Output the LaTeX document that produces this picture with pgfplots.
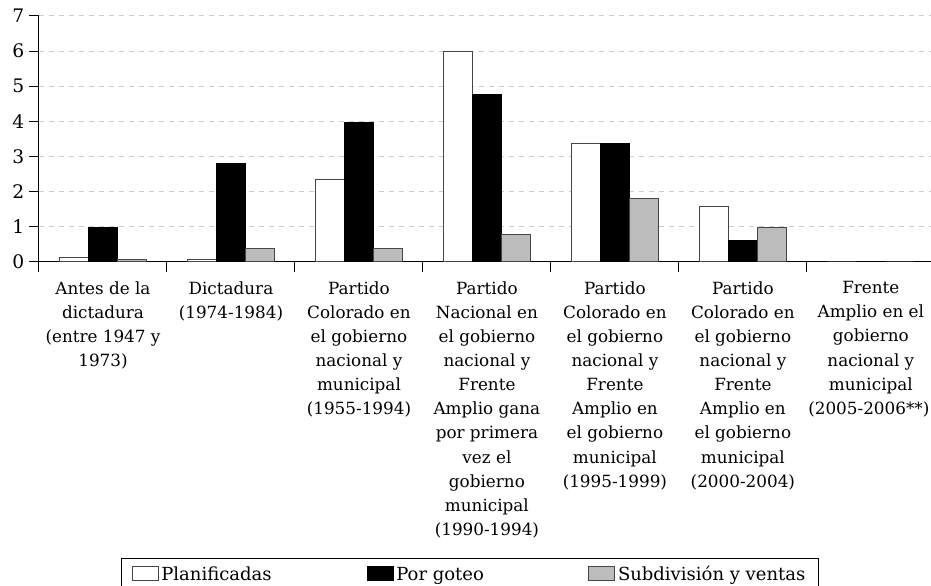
\documentclass[border=0pt]{standalone}
\usepackage{fontspec}
\setmainfont{DejaVu Serif}
\usepackage{pgfplots}
\pgfplotsset{compat=1.18}
\definecolor{barGray}{RGB}{187,188,187}
\definecolor{edgeGray}{RGB}{70,70,70}
\definecolor{gridGray}{RGB}{205,205,205}
\newcommand{\lblfont}{\fontsize{12.6}{18.1}\selectfont}
\newcommand{\tckfont}{\fontsize{14}{16}\selectfont}
\newcommand{\legfont}{\fontsize{13.5}{16}\selectfont}
\begin{document}
\begin{tikzpicture}
\begin{axis}[
  width=669pt, height=184.5pt, scale only axis,
  xmin=-0.5, xmax=6.47, ymin=0, ymax=7,
  ybar=0pt, bar width=0.227,
  axis x line=bottom, axis y line=left,
  axis line style={-, black, line width=0.75pt},
  xtick={-0.5,0.5,...,5.5}, xticklabels={},
  extra x ticks={0,1,2,3,4,5,6},
  extra x tick labels={
    {Antes de la\\dictadura\\(entre 1947 y\\1973)},
    {Dictadura\\(1974-1984)},
    {Partido\\Colorado en\\el gobierno\\nacional y\\municipal\\(1955-1994)},
    {Partido\\Nacional en\\el gobierno\\nacional y\\Frente\\Amplio gana\\por primera\\vez el\\gobierno\\municipal\\(1990-1994)},
    {Partido\\Colorado en\\el gobierno\\nacional y\\Frente\\Amplio en\\el gobierno\\municipal\\(1995-1999)},
    {Partido\\Colorado en\\el gobierno\\nacional y\\Frente\\Amplio en\\el gobierno\\municipal\\(2000-2004)},
    {Frente\\Amplio en el\\gobierno\\nacional y\\municipal\\\hspace*{-3pt}(2005-2006**)}},
  extra x tick style={major tick length=0pt, grid=none,
    xticklabel style={align=center, anchor=north, font=\lblfont, yshift=-11pt}},
  ytick={0,...,7},
  ymajorgrids,
  grid style={gridGray, line width=0.75pt, dash pattern=on 4pt off 3.5pt},
  tick align=outside, major tick length=7.5pt,
  tick style={black, line width=0.75pt},
  yticklabel style={font=\tckfont},
  /pgf/number format/assume math mode=true,
  legend columns=3,
  legend style={at={(0.483,-1.2033)}, anchor=north, draw=black, line width=0.75pt,
    font=\legfont, inner xsep=8pt, inner ysep=4pt,
    /tikz/every even column/.append style={column sep=6pt}},
  legend cell align=left,
  legend image code/.code={\draw[#1, line width=0.75pt] (0pt,-4pt) rectangle (19.5pt,6.5pt);},
]
\addplot[fill=white, draw=edgeGray, line width=0.75pt] coordinates {(0,0.14) (1,0.085) (2,2.36) (3,5.98) (4,3.38) (5,1.59) (6,0)};
\addlegendentry{\makebox[146pt][l]{Planificadas}}
\addplot[fill=black, draw=black, line width=0.75pt] coordinates {(0,0.98) (1,2.81) (2,3.98) (3,4.78) (4,3.38) (5,0.6) (6,0)};
\addlegendentry{\makebox[136pt][l]{Por goteo}}
\addplot[fill=barGray, draw=edgeGray, line width=0.75pt] coordinates {(0,0.085) (1,0.38) (2,0.38) (3,0.78) (4,1.80) (5,0.98) (6,0)};
\addlegendentry{Subdivisión y ventas}
\coordinate (bl) at (rel axis cs:0,0);
\coordinate (tr) at (rel axis cs:1,1);
\end{axis}
\pgfresetboundingbox
\useasboundingbox ([shift={(-29.25pt,-243pt)}]bl) rectangle ([shift={(0pt,12pt)}]tr);
\end{tikzpicture}
\end{document}
